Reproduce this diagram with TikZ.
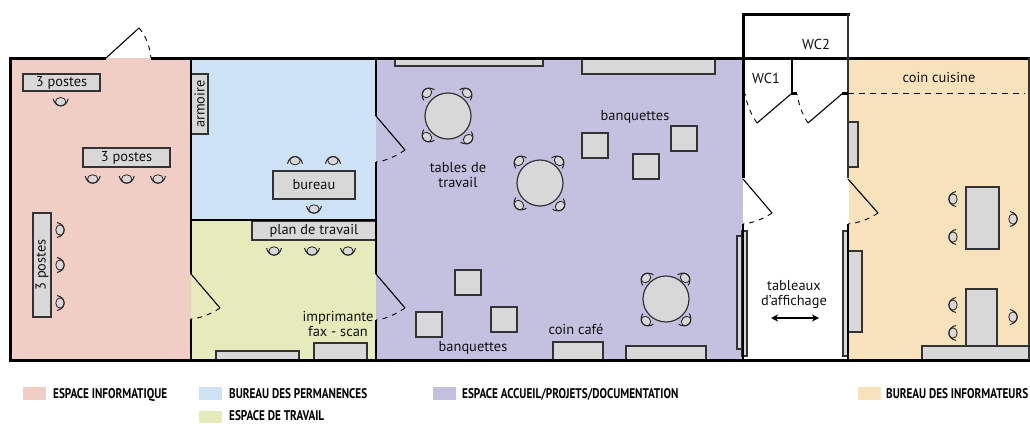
\documentclass[tikz,border=0pt]{standalone}
\usepackage{fontspec}
\setmainfont{PT Sans}
\newfontfamily\legendfont[FakeStretch=0.8]{PT Sans Bold}
\usetikzlibrary{arrows.meta}
\definecolor{cpink}{HTML}{F0CEC6}
\definecolor{cblue}{HTML}{CEE2F6}
\definecolor{cgreen}{HTML}{E6EBBB}
\definecolor{cpurple}{HTML}{C4C0E0}
\definecolor{corange}{HTML}{F7E2BC}
\definecolor{cfurn}{HTML}{D8D8D8}
\definecolor{cink}{HTML}{111111}
\tikzset{
  wall/.style={line width=2.6pt,draw=black},
  thick wall/.style={line width=3pt,draw=black},
  thin wall/.style={line width=1.4pt,draw=black!80},
  furn/.style={draw=black!80,fill=cfurn,line width=1.2pt},
  leaf/.style={draw=black,line width=1.1pt},
  swing/.style={draw=black,line width=.9pt,dash pattern=on 5pt off 5pt},
  lbl/.style={inner sep=0pt,text=cink,font=\fontsize{14.4}{14}\selectfont,align=center},
  legend/.style={inner sep=0pt,anchor=base west,text=black,font=\legendfont\fontsize{14}{14}\selectfont},
  chair/.pic={
    \draw[draw=black!85,fill=cfurn,line width=.8pt] (0,0) ellipse[x radius=5.2pt,y radius=4.2pt];
    \draw[draw=black!85,line width=1pt] (-7.5,-3) .. controls (-5.5,6.6) and (5.5,6.6) .. (7.5,-3);
  }
}
\begin{document}
\begin{tikzpicture}[x=1pt,y=-1pt]
\useasboundingbox (0,0) rectangle (1030,423);
% room fills
\fill[cpink] (10,58) rectangle (191,360);
\fill[cblue] (191,58) rectangle (376,220);
\fill[cgreen] (191,220) rectangle (376,360);
\fill[cpurple] (376,58) rectangle (743,360);
\fill[corange] (849,58) rectangle (1029,360);
% furniture
\draw[furn] (23,74) rectangle (100,91) node[midway,lbl] (p1) {3 postes};
\draw[furn] (83,148) rectangle (170,167) node[midway,lbl] (p2) {3 postes};
\draw[furn] (33,213) rectangle (51,317) node[midway,lbl,rotate=90] (p3) {3 postes};
\draw[furn] (191,74) rectangle (208,134) node[midway,lbl,rotate=90] (arm) {armoire};
\draw[furn] (273,171) rectangle (355,199) node[midway,lbl] (bur) {bureau};
\draw[furn] (252,221) rectangle (376,240) node[midway,lbl] (plan) {plan de travail};
\draw[furn] (314,343) rectangle (367,360);
\draw[furn] (216,351) rectangle (299,360);
\draw[furn] (395,58) rectangle (543,66);
\draw[furn] (582,58) rectangle (715,74);
\foreach \cx/\cy in {448/116,540/183,666/299}
  \draw[furn] (\cx,\cy) circle[radius=23pt];
\foreach \sx/\sy in {582/133,633/154,671/126,455/270,416/312,491/307}
  \draw[furn] (\sx,\sy) rectangle ++(26,25);
\draw[furn] (553,342) rectangle (603,360);
\draw[furn] (626,346) rectangle (706,360);
\draw[furn] (737,236) rectangle (743,349);
\draw[furn] (742,231) rectangle (747,356);
\draw[furn] (843,231) rectangle (848,356);
\draw[furn] (848,251) rectangle (862,332);
\draw[furn] (848,122) rectangle (858,167);
\draw[furn] (966,187) rectangle (999,249);
\draw[furn] (966,289) rectangle (997,346);
\draw[furn] (922,346) rectangle (1030,360);
% chairs
\foreach \cx/\cy/\r in {
  60.7/101.7/0, 92.7/179/0, 126.7/179/0, 158/179/0,
  60/230/90, 60/265/90, 60/303/90,
  295/160.7/180, 333/160.7/180, 314/209/0,
  274/251/0, 312/251/0, 348/251/0,
  953/199/-90, 953/237/-90, 1013/219/90,
  953/305/-90, 953/333/-90, 1013/317/90,
  427/93/-135, 467/93/135, 427/137/-45, 468/139/45,
  519/161/-135, 559/161/135, 519/205/-45, 560/206/45,
  646/278/-135, 685/278/135, 646/321/-45, 686/321/45}
  \pic[rotate=\r] at (\cx,\cy) {chair};
% walls
\draw[thick wall] (10,58) -- (106,58);
\draw[thick wall] (151,58) -- (849,58);
\draw[thick wall] (849,58) -- (1030,58);
\draw[thick wall] (10,56.5) -- (10,361.5);
\draw[thick wall] (8.5,360) -- (1030,360);
\draw[thin wall] (1029,58) -- (1029,360);
\draw[wall] (191,58) -- (191,274);
\draw[wall] (191,319) -- (191,360);
\draw[wall] (191,220) -- (376,220);
\draw[wall] (376,58) -- (376,116);
\draw[wall] (376,162) -- (376,274);
\draw[wall] (376,320) -- (376,360);
\draw[thick wall,line cap=rect] (743,14) -- (848,14);
\draw[thick wall] (743,14) -- (743,178);
\draw[wall] (743,224) -- (743,360);
\draw[line width=2pt,draw=black!80] (848,14) -- (848,178);
\draw[wall] (848,224) -- (848,360);
\draw[wall,line cap=rect] (792,58) -- (792,93);
\draw[wall] (791,93.5) -- (797,93.5);
\draw[wall] (842,93.5) -- (848,93.5);
% doors
\draw[leaf] (106,58) -- (139,28);
\draw[swing] (139,28) .. controls (146,36) and (150,47) .. (151,58);
\draw[leaf] (191,274) -- (220,308);
\draw[swing] (220,308) .. controls (211,314) and (201,318) .. (191,319);
\draw[leaf] (376,116) -- (405,150);
\draw[swing] (405,150) .. controls (396,156) and (386,161) .. (376,162);
\draw[leaf] (376,274) -- (405,308);
\draw[swing] (405,308) .. controls (396,314) and (386,319) .. (376,320);
\draw[leaf] (743,179) -- (772,213);
\draw[swing] (772,213) .. controls (763,219) and (753,223) .. (743,224);
\draw[leaf] (848,179) -- (878,213);
\draw[swing] (878,213) .. controls (869,219) and (859,223) .. (848,224);
\draw[leaf] (791,94) -- (757,123);
\draw[swing] (757,123) .. controls (751,114) and (747,105) .. (745,94);
\draw[line width=.9pt] (743,94) -- (746,94);
\draw[leaf] (843,93) -- (808,123);
\draw[swing] (808,123) .. controls (802,114) and (799,105) .. (797,94);
\draw[line width=1.1pt,dash pattern=on 6pt off 5pt] (848,93.5) -- (1025,93.5);
% labels
\node[lbl] (imp) at (338,324) {imprimante\\[0.5pt]fax - scan};
\node[lbl] (tab) at (458,175) {tables de\\[0.5pt]travail};
\node[lbl] (ban1) at (635,117) {banquettes};
\node[lbl] (ban2) at (473,348) {banquettes};
\node[lbl] (caf) at (576,329) {coin café};
\node[lbl] (wc1) at (766,78) {WC1};
\node[lbl] (wc2) at (816,44) {WC2};
\node[lbl] (aff) at (794,294.5) {tableaux\\[0.5pt]d’affichage};
\node[lbl] (cui) at (939,77) {coin cuisine};
\coordinate (arrL) at (771,318);
\coordinate (arrR) at (819,318);
\draw[line width=1.2pt,{Stealth[length=7pt,width=7pt,inset=2pt]}-{Stealth[length=7pt,width=7pt,inset=2pt]}] (arrL) -- (arrR);
% legend
\fill[cpink] (23,387) rectangle (46,400);
\node[legend] (l1) at (53,398.5) {ESPACE INFORMATIQUE};
\fill[cblue] (199,387) rectangle (222,400);
\node[legend] (l2) at (229,398.5) {BUREAU DES PERMANENCES};
\fill[cgreen] (199,411) rectangle (222,423);
\node[legend] (l3) at (229,420) {ESPACE DE TRAVAIL};
\fill[cpurple] (433,387) rectangle (456,400);
\node[legend] (l4) at (462,398.5) {ESPACE ACCUEIL/PROJETS/DOCUMENTATION};
\fill[corange] (858,387) rectangle (881,400);
\node[legend] (l5) at (886,398.5) {BUREAU DES INFORMATEURS};
\end{tikzpicture}
\end{document}
